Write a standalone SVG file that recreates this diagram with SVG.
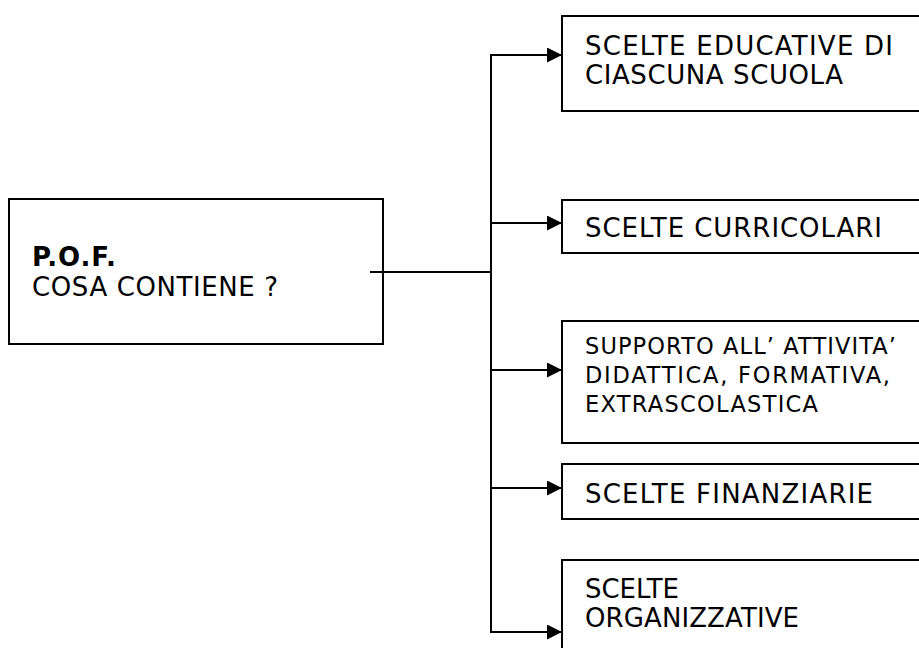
<svg xmlns="http://www.w3.org/2000/svg" width="919" height="648" viewBox="0 0 919 648">
<style>
.box{fill:#fff;stroke:#000;stroke-width:2}
.t{font-family:"DejaVu Sans","Verdana",sans-serif;font-size:26px;fill:#000}
.s{font-size:22.5px}
.b{font-weight:bold}
.ln{fill:none;stroke:#000;stroke-width:2}
</style>
<defs>
<marker id="ah" markerUnits="userSpaceOnUse" markerWidth="16" markerHeight="16" refX="15" refY="7.5" orient="auto">
<polygon points="0,0 15,7.5 0,15" fill="#000"/>
</marker>
</defs>
<rect width="919" height="648" fill="#fff"/>
<g id="pof">
<rect class="box" x="9" y="199" width="374" height="145"/>
<text class="t b" x="32" y="266" textLength="84" lengthAdjust="spacing">P.O.F.</text>
<text class="t" x="32" y="296" textLength="246" lengthAdjust="spacing">COSA CONTIENE ?</text>
</g>
<g id="educative">
<rect class="box" x="562" y="16" width="370" height="95"/>
<text class="t" x="585" y="55" textLength="308" lengthAdjust="spacing">SCELTE EDUCATIVE DI</text>
<text class="t" x="585" y="84" textLength="258" lengthAdjust="spacing">CIASCUNA SCUOLA</text>
</g>
<g id="curricolari">
<rect class="box" x="562" y="200" width="370" height="53"/>
<text class="t" x="585" y="237" textLength="297" lengthAdjust="spacing">SCELTE CURRICOLARI</text>
</g>
<g id="supporto">
<rect class="box" x="562" y="321" width="370" height="122"/>
<text class="t s" x="585" y="354" textLength="311" lengthAdjust="spacing">SUPPORTO ALL’ ATTIVITA’</text>
<text class="t s" x="585" y="383" textLength="305" lengthAdjust="spacing">DIDATTICA, FORMATIVA,</text>
<text class="t s" x="585" y="412" textLength="233" lengthAdjust="spacing">EXTRASCOLASTICA</text>
</g>
<g id="finanziarie">
<rect class="box" x="562" y="464" width="370" height="55"/>
<text class="t" x="585" y="503" textLength="288" lengthAdjust="spacing">SCELTE FINANZIARIE</text>
</g>
<g id="organizzative">
<rect class="box" x="562" y="560" width="370" height="100"/>
<text class="t" x="585" y="598" textLength="94" lengthAdjust="spacing">SCELTE</text>
<text class="t" x="585" y="627" textLength="214" lengthAdjust="spacing">ORGANIZZATIVE</text>
</g>
<g id="connectors">
<line class="ln" x1="370" y1="272" x2="491" y2="272"/>
<line class="ln" x1="491" y1="54" x2="491" y2="633"/>
<line class="ln" x1="490" y1="55" x2="562" y2="55" marker-end="url(#ah)"/>
<line class="ln" x1="490" y1="223" x2="562" y2="223" marker-end="url(#ah)"/>
<line class="ln" x1="490" y1="370" x2="562" y2="370" marker-end="url(#ah)"/>
<line class="ln" x1="490" y1="488" x2="562" y2="488" marker-end="url(#ah)"/>
<line class="ln" x1="490" y1="632" x2="562" y2="632" marker-end="url(#ah)"/>
</g>
</svg>
